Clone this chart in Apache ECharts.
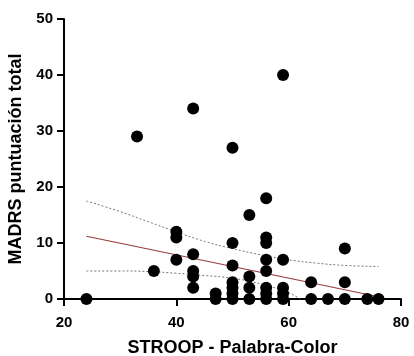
<!DOCTYPE html>
<html>
<head>
<meta charset="utf-8">
<script src="https://cdn.jsdelivr.net/npm/echarts@6/dist/echarts.min.js"></script>
<style>
  html, body { margin: 0; padding: 0; background: #fff; }
  #chart { width: 414px; height: 356px; }
</style>
</head>
<body>
<div id="chart"></div>
<script>
// STROOP Palabra-Color (x) vs MADRS total (y)
const stroopX = [24, 33, 36, 40, 40, 40, 43, 43, 43, 43, 43, 47, 47,
  50, 50, 50, 50, 50, 50, 50, 53, 53, 53, 53,
  56, 56, 56, 56, 56, 56, 56, 56, 59, 59, 59, 59, 59,
  64, 64, 67, 70, 70, 70, 74, 76]
const madrsY = [0, 29, 5, 12, 11, 7, 34, 8, 5, 4, 2, 1, 0,
  27, 10, 6, 3, 2, 1, 0, 15, 4, 2, 0,
  18, 11, 10, 7, 5, 2, 1, 0, 40, 7, 2, 1, 0,
  3, 0, 0, 9, 3, 0, 0, 0]

// regression line end points
const fitX = [24, 76]
const fitY = [11.2, 0.4]

// confidence band
const upperX = [24, 30, 35, 40, 45, 50, 55, 60, 65, 70, 76]
const upperY = [17.5, 15.6, 13.8, 12.0, 10.3, 9.0, 7.9, 7.0, 6.4, 6.0, 5.8]
const lowerX = [24, 30, 35, 40, 45, 50, 55, 60, 62]
const lowerY = [5.0, 5.0, 4.9, 4.6, 4.2, 3.7, 2.7, 1.1, 0]

const xTicks = [20, 40, 60, 80]
const yTicks = [0, 10, 20, 30, 40, 50]

const zip = (a, b) => a.map((v, i) => [v, b[i]])

const font = "'Liberation Sans', Arial, sans-serif"
const chart = echarts.init(document.getElementById('chart'))

const axisCommon = () => ({
  axisLine: { show: true, onZero: false, lineStyle: { color: '#000', width: 2 } },
  axisTick: { show: true, inside: false, length: 7, lineStyle: { color: '#000', width: 2 } },
  splitLine: { show: false },
  nameLocation: 'middle',
  nameTextStyle: { color: '#000', fontFamily: font, fontWeight: 'bold', fontSize: 18 }
})

chart.setOption({
  animation: false,
  grid: { left: 64, right: 13, top: 19, bottom: 57, outerBoundsMode: 'none', containLabel: false },
  xAxis: Object.assign(axisCommon(), {
    type: 'value',
    min: xTicks[0],
    max: xTicks[xTicks.length - 1],
    interval: 20,
    axisLabel: { color: '#000', fontFamily: font, fontWeight: 'bold', fontSize: 15, margin: 16 },
    name: 'STROOP - Palabra-Color',
    nameGap: 40
  }),
  yAxis: Object.assign(axisCommon(), {
    type: 'value',
    min: yTicks[0],
    max: yTicks[yTicks.length - 1],
    interval: 10,
    axisLabel: { color: '#000', fontFamily: font, fontWeight: 'bold', fontSize: 15, margin: 11 },
    name: 'MADRS puntuación total',
    nameGap: 34
  }),
  series: [
    {
      type: 'line',
      data: zip(upperX, upperY),
      showSymbol: false,
      smooth: true,
      lineStyle: { color: '#777', width: 1, type: [2, 2] },
      z: 1
    },
    {
      type: 'line',
      data: zip(lowerX, lowerY),
      showSymbol: false,
      smooth: true,
      lineStyle: { color: '#777', width: 1, type: [2, 2] },
      z: 1
    },
    {
      type: 'line',
      data: zip(fitX, fitY),
      showSymbol: false,
      lineStyle: { color: '#9a3b3b', width: 1.2 },
      z: 2
    },
    {
      type: 'scatter',
      data: zip(stroopX, madrsY),
      symbolSize: 12,
      itemStyle: { color: '#000', opacity: 1 },
      clip: false,
      z: 3
    }
  ]
})
</script>
</body>
</html>
